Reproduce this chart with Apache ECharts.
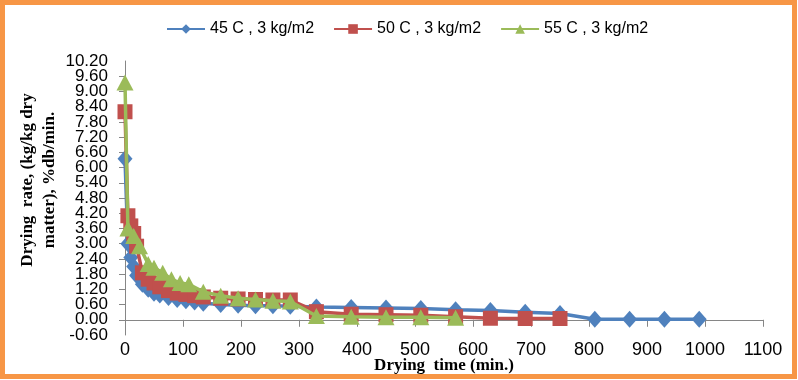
<!DOCTYPE html>
<html><head><meta charset="utf-8">
<script src="https://cdn.jsdelivr.net/npm/echarts@6/dist/echarts.min.js"></script>
<style>html,body{margin:0;padding:0;background:#fff}#c{width:798px;height:380px}</style>
</head><body><div id="c"></div>
<script>
const seriesNames = ['45 C , 3 kg/m2', '50 C , 3 kg/m2', '55 C , 3 kg/m2'];
const time45 = [0, 5, 10, 15, 20, 30, 40, 50, 60, 75, 90, 105, 120, 135, 165, 195, 225, 255, 285, 330, 390, 450, 510, 570, 630, 690, 750, 810, 870, 930, 990];
const rate45 = [6.35, 3.0, 2.45, 2.1, 1.75, 1.4, 1.2, 1.05, 0.98, 0.88, 0.8, 0.75, 0.7, 0.65, 0.6, 0.57, 0.55, 0.55, 0.53, 0.5, 0.48, 0.46, 0.44, 0.4, 0.37, 0.3, 0.25, 0.02, 0.02, 0.02, 0.02];
const time50 = [0, 5, 10, 15, 20, 30, 40, 50, 60, 75, 90, 105, 120, 135, 165, 195, 225, 255, 285, 330, 390, 450, 510, 570, 630, 690, 750];
const rate50 = [8.2, 4.1, 3.7, 3.4, 2.9, 1.85, 1.6, 1.45, 1.3, 1.15, 1.05, 1.0, 0.95, 0.9, 0.85, 0.82, 0.8, 0.78, 0.78, 0.32, 0.22, 0.2, 0.18, 0.12, 0.06, 0.05, 0.05];
const time55 = [0, 5, 15, 25, 40, 50, 65, 80, 95, 110, 135, 165, 195, 225, 255, 285, 330, 390, 450, 510, 570];
const rate55 = [9.35, 3.6, 3.3, 2.9, 2.2, 2.05, 1.85, 1.6, 1.45, 1.4, 1.1, 0.95, 0.85, 0.8, 0.75, 0.72, 0.15, 0.12, 0.1, 0.1, 0.08];
const yMin = -0.6, yMax = 10.2, yStep = 0.6;
const colors = ['#4F81BD', '#C0504D', '#9BBB59'];
const symbols = ['diamond', 'rect', 'triangle'];
const symbolSizes = [[15, 17], 15, [17, 16]];

const pairs = (t, v) => t.map((x, i) => [x, v[i]]);
const datasets = [pairs(time45, rate45), pairs(time50, rate50), pairs(time55, rate55)];
const labelFont = 'Liberation Sans Narrow, Liberation Sans';
const yLabel = {margin: 17, fontFamily: labelFont, fontSize: 17, color: '#000', formatter: v => v.toFixed(2)};

const chart = echarts.init(document.getElementById('c'), null, {renderer: 'canvas'});
chart.setOption({
  animation: false,
  backgroundColor: '#fff',
  graphic: [{type: 'rect', shape: {x: 2.5, y: 2.5, width: 792, height: 374}, style: {fill: 'none', stroke: '#F79646', lineWidth: 5}, z: 100}],
  legend: {
    left: 161, top: 16, itemWidth: 38, itemHeight: 12, itemGap: 19,
    textStyle: {fontFamily: labelFont, fontSize: 16, color: '#000'},
    data: seriesNames
  },
  grid: {left: 125, right: 35, top: 61, bottom: 45, containLabel: false, outerBoundsMode: 'none'},
  xAxis: {
    type: 'value', min: 0, max: 1100, interval: 100,
    name: 'Drying  time (min.)', nameLocation: 'middle', nameGap: 22, nameMoveOverlap: false,
    nameTextStyle: {fontFamily: 'Liberation Serif', fontWeight: 'bold', fontSize: 17, color: '#000'},
    axisLine: {onZero: true, lineStyle: {color: '#868686', width: 1}},
    axisTick: {show: true, length: 7, lineStyle: {color: '#868686'}},
    axisLabel: {margin: 6, fontFamily: labelFont, fontSize: 18, color: '#000', formatter: v => String(v), showMinLabel: true, showMaxLabel: true},
    splitLine: {show: false}
  },
  yAxis: [{
    type: 'value', min: yMin, max: yMax, interval: yStep,
    name: 'Drying  rate, (kg/kg dry\nmatter), %db/min.', nameLocation: 'middle', nameGap: 64, nameRotate: 90, nameMoveOverlap: false,
    nameTextStyle: {fontFamily: 'Liberation Serif', fontWeight: 'bold', fontSize: 17, color: '#000', lineHeight: 22, padding: [0, 0, 0, 36]},
    axisLine: {show: true, onZero: false, lineStyle: {color: '#868686', width: 1}},
    axisTick: {show: true, length: 6, lineStyle: {color: '#868686'}},
    axisLabel: Object.assign({showMinLabel: false, showMaxLabel: false}, yLabel),
    splitLine: {show: false}
  }, {
    type: 'value', min: yMin, max: yMax, interval: yMax - yMin, position: 'left',
    axisLine: {show: false}, axisTick: {show: false}, splitLine: {show: false},
    axisLabel: Object.assign({showMinLabel: true, showMaxLabel: true}, yLabel)
  }],
  series: seriesNames.map((n, i) => ({
    name: n, type: 'line', data: datasets[i], yAxisIndex: 0,
    symbol: symbols[i], symbolSize: symbolSizes[i],
    itemStyle: {color: colors[i]},
    lineStyle: {color: colors[i], width: 3.5},
    showAllSymbol: true, z: 2 + i
  }))
});
</script></body></html>
